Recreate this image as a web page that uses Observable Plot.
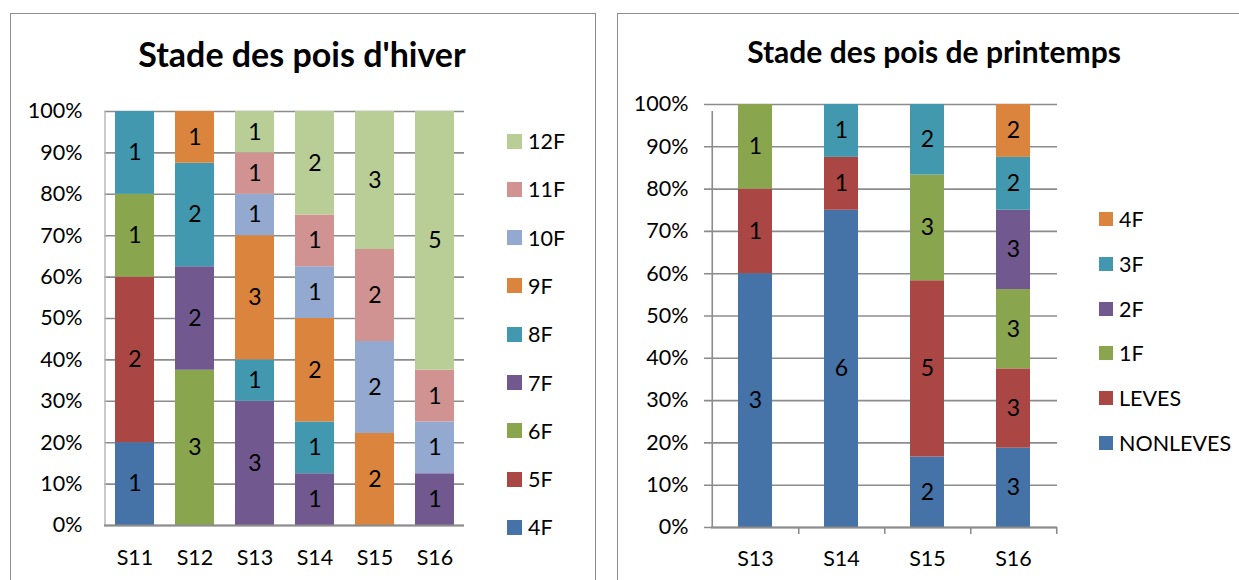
<!DOCTYPE html>
<html>
<head>
<meta charset="utf-8">
<script src="https://cdn.jsdelivr.net/npm/d3@7"></script>
<script src="https://cdn.jsdelivr.net/npm/@observablehq/plot@0.6"></script>
<style>
  html, body { margin: 0; padding: 0; background: #fff; }
  body { width: 1239px; height: 580px; position: relative; overflow: hidden; font-family: Lato, "Open Sans", sans-serif; }
  .panel { position: absolute; border: 1.5px solid #8c8c8c; box-sizing: border-box; }
  .title { position: absolute; transform: translateX(-50%); white-space: nowrap; font-weight: bold; color: #000; line-height: normal; }
  .abs { position: absolute; }
  .leg { position: absolute; display: flex; align-items: center; font-size: 21.5px; color: #000; white-space: nowrap; }
  .sw { display: inline-block; margin-right: 6px; }
</style>
</head>
<body>
<div class="panel" style="left:10px;top:13px;width:586px;height:600px;"></div>
<div class="panel" style="left:617px;top:13px;width:640px;height:600px;"></div>
<div id="t1" class="title" style="left:302px;top:33px;font-size:34px;">Stade des pois d'hiver</div>
<div id="t2" class="title" style="left:934px;top:33px;font-size:30px;">Stade des pois de printemps</div>
<div id="c1" class="abs" style="left:0px;top:0px;"></div>
<div id="c2" class="abs" style="left:617px;top:0px;"></div>
<div id="l1"></div>
<div id="l2"></div>
<script>
// ---------- Data: winter peas (Stade des pois d'hiver) ----------
const hCats = ["S11", "S12", "S13", "S14", "S15", "S16"];
const hKeys = ["4F", "5F", "6F", "7F", "8F", "9F", "10F", "11F", "12F"];
const hColors = ["#4572A7", "#AA4643", "#89A54E", "#71588F", "#4198AF", "#DB843D", "#93A9CF", "#D19392", "#B9CD96"];
const h4F  = [1, 0, 0, 0, 0, 0];
const h5F  = [2, 0, 0, 0, 0, 0];
const h6F  = [1, 3, 0, 0, 0, 0];
const h7F  = [0, 2, 3, 1, 0, 1];
const h8F  = [1, 2, 1, 1, 0, 0];
const h9F  = [0, 1, 3, 2, 2, 0];
const h10F = [0, 0, 1, 1, 2, 1];
const h11F = [0, 0, 1, 1, 2, 1];
const h12F = [0, 0, 1, 2, 3, 5];

// ---------- Data: spring peas (Stade des pois de printemps) ----------
const pCats = ["S13", "S14", "S15", "S16"];
const pKeys = ["NONLEVES", "LEVES", "1F", "2F", "3F", "4F"];
const pColors = ["#4572A7", "#AA4643", "#89A54E", "#71588F", "#4198AF", "#DB843D"];
const pNONLEVES = [3, 6, 2, 3];
const pLEVES    = [1, 1, 5, 3];
const p1F       = [1, 0, 3, 3];
const p2F       = [0, 0, 0, 3];
const p3F       = [0, 1, 2, 2];
const p4F       = [0, 0, 0, 2];

const yTicks = [0, 0.1, 0.2, 0.3, 0.4, 0.5, 0.6, 0.7, 0.8, 0.9, 1];

function toRows(cats, keys, series) {
  const rows = [];
  keys.forEach((k, i) => series[i].forEach((v, j) => { if (v > 0) rows.push({s: cats[j], k, v}); }));
  return rows;
}
const hRows = toRows(hCats, hKeys, [h4F, h5F, h6F, h7F, h8F, h9F, h10F, h11F, h12F]);
const pRows = toRows(pCats, pKeys, [pNONLEVES, pLEVES, p1F, p2F, p3F, p4F]);

const pct = d => Math.round(d * 100) + "%";

function stackedChart({cats, keys, colors, rows, width, height, mL, mR, mT, mB, padIn, yPad, xPad, ticks, axisColor}) {
  const step = (width - mL - mR) / cats.length;
  const marks = [
    Plot.ruleY(yTicks, {stroke: "#8c8c8c", strokeWidth: 1.6, insetLeft: ticks ? -7 : 0}),
    Plot.barY(rows, Plot.stackY({x: "s", y: "v", fill: "k", order: keys, offset: "normalize"})),
    Plot.ruleX([cats[0]], {dx: -step / 2, y1: 0, y2: 1, stroke: axisColor, strokeWidth: 1.6, insetBottom: ticks ? -7 : 0}),
    Plot.ruleY([0], {stroke: "#8c8c8c", strokeWidth: 2.2}),
    Plot.text(rows, Plot.stackY({x: "s", y: "v", z: "k", text: "v", order: keys, offset: "normalize", fill: "#000", fontSize: 23}))
  ];
  if (ticks) {
    marks.push(Plot.ruleX(cats, {dx: step / 2, y1: 0, y2: 0, insetBottom: -7, stroke: "#8c8c8c", strokeWidth: 1.6}));
  }
  return Plot.plot({
    width, height,
    marginLeft: mL, marginRight: mR, marginTop: mT, marginBottom: mB,
    x: {domain: cats, paddingInner: padIn, paddingOuter: padIn / 2, label: null, tickSize: 0, tickPadding: xPad},
    y: {domain: [0, 1], ticks: yTicks, tickFormat: pct, tickSize: 0, tickPadding: yPad, label: null},
    color: {domain: keys, range: colors},
    style: {fontFamily: "Lato, 'Open Sans', sans-serif", fontSize: "21.5px", color: "#000", background: "transparent", overflow: "visible"},
    marks
  });
}

document.getElementById("c1").append(stackedChart({
  cats: hCats, keys: hKeys, colors: hColors, rows: hRows,
  width: 600, height: 580, mL: 104, mR: 136, mT: 111, mB: 55,
  padIn: 0.35, yPad: 22, xPad: 24, ticks: false, axisColor: "#bdbdbd"
}));
document.getElementById("c2").append(stackedChart({
  cats: pCats, keys: pKeys, colors: pColors, rows: pRows,
  width: 622, height: 580, mL: 94, mR: 182, mT: 104, mB: 53,
  padIn: 0.6, yPad: 23, xPad: 23, ticks: true, axisColor: "#8c8c8c"
}));

function legend(el, keys, colors, x, yTop, gap, sw) {
  const host = document.getElementById(el);
  keys.forEach((k, i) => {
    const d = document.createElement("div");
    d.className = "leg";
    d.style.left = x + "px";
    d.style.top = (yTop + i * gap - 13) + "px";
    d.style.height = "26px";
    const s = document.createElement("span");
    s.className = "sw";
    s.style.width = sw + "px";
    s.style.height = sw + "px";
    s.style.background = colors[i];
    d.append(s, document.createTextNode(k));
    host.append(d);
  });
}
// legends list the top stack entry first
legend("l1", hKeys.slice().reverse(), hColors.slice().reverse(), 507, 141, 48.3, 15);
legend("l2", pKeys.slice().reverse(), pColors.slice().reverse(), 1099, 219, 44.8, 14);
</script>
</body>
</html>
